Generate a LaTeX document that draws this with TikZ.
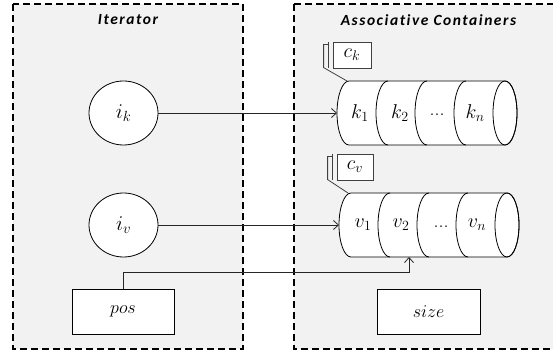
\RequirePackage{fix-cm}
\documentclass[tikz,border=0pt]{standalone}
\usepackage{fontspec}
\newfontfamily\titlefont[LetterSpace=10,Ligatures=NoCommon]{Carlito}
\usetikzlibrary{arrows.meta,shapes.geometric}
\definecolor{panelgray}{HTML}{F2F2F2}
\definecolor{linegray}{HTML}{262626}
\definecolor{callgray}{HTML}{404040}
\tikzset{
  panel/.style={draw=black, fill=panelgray, line width=1.6pt, dash pattern=on 7pt off 4pt},
  ttl/.style={font=\titlefont\fontsize{15.5}{18}\selectfont\bfseries\itshape},
  mth/.style={font=\fontsize{20}{24}\selectfont, inner sep=0pt},
  ovalnode/.style={draw=black, fill=white, line width=0.8pt, ellipse, minimum width=69pt, minimum height=64pt, inner sep=0pt, font=\fontsize{21}{24}\selectfont},
  boxnode/.style={draw=black, fill=white, line width=0.8pt, minimum width=102pt, minimum height=45pt, inner sep=0pt, font=\fontsize{18}{22}\selectfont},
  callbox/.style={draw=callgray, fill=white, line width=0.8pt, minimum width=38pt, minimum height=26pt, inner sep=0pt, font=\fontsize{20}{24}\selectfont},
  conn/.style={draw=linegray, line width=0.8pt, -{Straight Barb[length=5pt,width=9pt]}},
  cyl/.style={draw=black, line width=0.8pt},
  calline/.style={draw=callgray, line width=0.8pt}
}
\begin{document}
\begin{tikzpicture}[x=1pt,y=1pt]
\useasboundingbox (0,0) rectangle (553,-352);
\clip (0,0) rectangle (553,-352);
% panels
\path[panel] (13,-4) rectangle (243,-349);
\path[panel] (294,-4) rectangle (563,-349);
\node[ttl] (t1) at (128,-20) {Iterator};
\node[ttl] (t2) at (428.5,-20) {Associative Containers};
% iterator nodes
\node[ovalnode] (ik) at (123.5,-113) {$i_k$};
\node[ovalnode] (iv) at (123.5,-225) {$i_v$};
\node[boxnode] (pos) at (123,-311.5) {$pos$};
\node[boxnode, minimum width=103pt] (size) at (428.5,-311.5) {$size$};
% key cylinder
\draw[cyl, fill=white] (349,-81) -- (505,-81) arc[start angle=90,end angle=-90,x radius=12,y radius=32]
  -- (349,-145) arc[start angle=270,end angle=90,x radius=12,y radius=32] -- cycle;
\draw[cyl] (505,-113) ellipse[x radius=12, y radius=32];
\foreach \xx in {388,427,466} \draw[cyl] (\xx,-81) arc[start angle=90,end angle=270,x radius=12,y radius=32];
\coordinate (kin) at (337,-113);
\coordinate (ktl) at (347,-81);
\node[mth] (k1) at (360,-113) {$k_1$};
\node[mth] (k2) at (400,-113) {$k_2$};
\node[mth] (kd) at (437,-115) {...};
\node[mth] (kn) at (475,-113) {$k_n$};
% value cylinder
\draw[cyl, fill=white] (351,-193) -- (507,-193) arc[start angle=90,end angle=-90,x radius=12,y radius=32]
  -- (351,-257) arc[start angle=270,end angle=90,x radius=12,y radius=32] -- cycle;
\draw[cyl] (507,-225) ellipse[x radius=12, y radius=32];
\foreach \xx in {390,429,468} \draw[cyl] (\xx,-193) arc[start angle=90,end angle=270,x radius=12,y radius=32];
\coordinate (vin) at (339,-225);
\coordinate (vtl) at (348,-193);
\coordinate (vbot) at (409,-257);
\node[mth] (v1) at (363,-225) {$v_1$};
\node[mth] (v2) at (401,-225) {$v_2$};
\node[mth] (vd) at (441,-227) {...};
\node[mth] (vn) at (477,-225) {$v_n$};
% callouts
\node[callbox] (ck) at (352,-55) {$c_k$};
\draw[calline] (ck.north west) ++(-4,0) -- ++(0,-26);
\draw[calline] (ck.north west) ++(-4,-3) -- ++(-5,0) -- ++(0,-23) -- (ktl);
\node[callbox, minimum width=36pt] (cv) at (355,-167) {$c_v$};
\draw[calline] (cv.north west) ++(-4,0) -- ++(0,-26);
\draw[calline] (cv.north west) ++(-4,-3) -- ++(-5,0) -- ++(0,-23) -- (vtl);
% connectors
\draw[conn] (ik.east) -- (kin);
\draw[conn] (iv.east) -- (vin);
\draw[conn] (pos.north) -- ++(0,16) -| (vbot);
\end{tikzpicture}
\end{document}
